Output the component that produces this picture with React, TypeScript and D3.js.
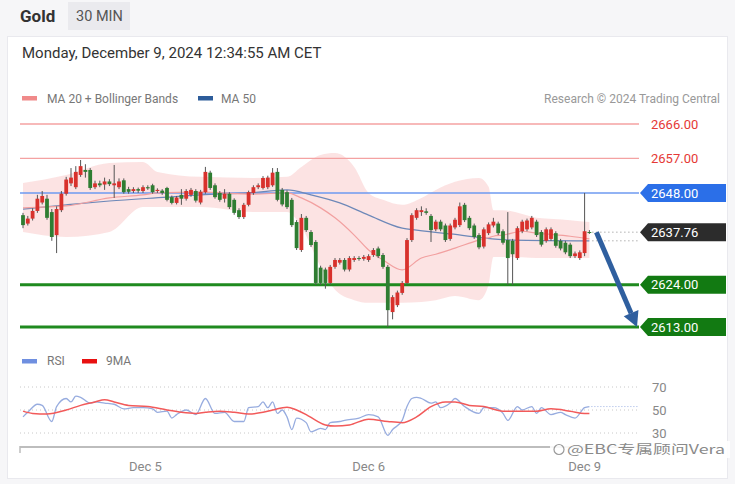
import * as d3 from "d3";

const FONT = "Roboto, 'Noto Sans', 'DejaVu Sans', sans-serif";
const CJK = "'Noto Sans CJK SC', 'Noto Sans', sans-serif";

// 30 min candles: [open, high, low, close]
const candles: [number, number, number, number][] = [
  [2642.2, 2642.8, 2638.8, 2639.6], [2640.0, 2642.0, 2639.5, 2641.3], [2641.3, 2644.0, 2640.8, 2643.3],
  [2643.3, 2647.5, 2642.8, 2646.5], [2645.5, 2648.5, 2645.0, 2647.2], [2646.5, 2647.5, 2641.0, 2641.5],
  [2643.0, 2643.8, 2635.5, 2636.5], [2637.0, 2644.5, 2632.3, 2643.8], [2643.5, 2648.5, 2643.0, 2647.8],
  [2647.8, 2652.2, 2647.3, 2651.5], [2650.5, 2654.5, 2649.8, 2652.0], [2649.5, 2655.0, 2649.0, 2653.5],
  [2652.7, 2656.6, 2652.2, 2655.0], [2654.0, 2655.5, 2652.0, 2653.5], [2654.0, 2654.5, 2648.8, 2649.3],
  [2649.5, 2651.2, 2649.0, 2650.5], [2650.5, 2651.2, 2649.5, 2650.0], [2650.2, 2652.0, 2648.8, 2651.0],
  [2651.0, 2651.6, 2649.8, 2650.3], [2650.0, 2655.3, 2646.7, 2650.5], [2649.5, 2651.8, 2649.0, 2651.0],
  [2651.3, 2651.8, 2647.8, 2648.2], [2649.0, 2649.6, 2647.8, 2648.3], [2648.5, 2649.5, 2648.0, 2649.0],
  [2649.0, 2649.4, 2648.0, 2648.6], [2648.5, 2650.0, 2648.0, 2649.5], [2649.5, 2650.0, 2648.8, 2649.2],
  [2650.0, 2650.4, 2647.8, 2648.2], [2648.5, 2649.2, 2648.0, 2648.8], [2648.6, 2649.0, 2647.5, 2648.0],
  [2649.3, 2649.6, 2645.8, 2646.2], [2646.9, 2647.3, 2645.0, 2645.4], [2645.4, 2647.2, 2645.0, 2646.8],
  [2647.5, 2649.0, 2644.9, 2646.5], [2646.5, 2649.0, 2646.0, 2648.5], [2647.5, 2649.3, 2647.0, 2648.8],
  [2648.5, 2649.0, 2645.5, 2646.0], [2645.5, 2648.8, 2645.0, 2648.3], [2648.2, 2654.8, 2647.8, 2653.5],
  [2653.3, 2653.8, 2648.8, 2649.3], [2650.0, 2650.5, 2646.5, 2646.9], [2648.0, 2648.5, 2645.7, 2646.2],
  [2646.5, 2649.0, 2645.5, 2647.8], [2647.8, 2648.2, 2643.8, 2644.3], [2646.2, 2646.6, 2642.3, 2642.8],
  [2643.5, 2644.0, 2641.2, 2641.7], [2641.7, 2645.4, 2641.2, 2644.9], [2644.9, 2648.6, 2644.5, 2648.2],
  [2648.0, 2650.0, 2647.5, 2649.5], [2649.5, 2650.5, 2649.0, 2650.0], [2649.3, 2652.4, 2648.9, 2651.9],
  [2649.5, 2652.5, 2649.0, 2652.0], [2650.0, 2654.5, 2649.6, 2653.3], [2653.5, 2654.5, 2645.8, 2646.2],
  [2648.8, 2649.3, 2644.5, 2645.0], [2648.2, 2648.7, 2643.8, 2644.3], [2646.2, 2646.7, 2639.1, 2639.6],
  [2640.4, 2640.9, 2633.1, 2633.6], [2633.1, 2642.5, 2632.6, 2641.5], [2641.5, 2642.0, 2637.8, 2638.3],
  [2637.8, 2638.3, 2633.9, 2634.4], [2635.2, 2635.7, 2624.0, 2624.5], [2628.5, 2629.0, 2624.0, 2624.5],
  [2628.0, 2628.5, 2623.0, 2624.5], [2624.5, 2629.2, 2624.0, 2628.7], [2628.7, 2631.0, 2628.2, 2630.5],
  [2629.8, 2631.0, 2629.3, 2630.5], [2630.5, 2631.0, 2627.5, 2628.0], [2628.0, 2631.5, 2627.5, 2631.0],
  [2630.5, 2631.5, 2630.0, 2631.0], [2631.0, 2631.5, 2630.3, 2630.8], [2630.8, 2631.8, 2630.3, 2631.3],
  [2630.5, 2632.0, 2630.0, 2631.5], [2631.8, 2633.6, 2631.3, 2633.1], [2633.5, 2634.0, 2631.0, 2631.5],
  [2631.8, 2632.3, 2628.2, 2628.7], [2628.7, 2629.2, 2613.0, 2617.4], [2616.9, 2621.3, 2615.0, 2620.8],
  [2618.7, 2622.5, 2618.2, 2622.0], [2621.9, 2625.0, 2621.4, 2624.5], [2624.5, 2636.2, 2624.0, 2635.7],
  [2635.7, 2642.7, 2635.2, 2642.2], [2641.5, 2644.0, 2641.0, 2643.5], [2643.0, 2644.5, 2642.0, 2643.5],
  [2643.2, 2644.0, 2642.3, 2642.8], [2642.0, 2642.5, 2635.2, 2638.3], [2638.5, 2641.0, 2638.0, 2640.5],
  [2640.5, 2641.0, 2638.0, 2638.5], [2639.5, 2640.0, 2635.2, 2635.7], [2636.0, 2640.0, 2635.5, 2639.5],
  [2639.0, 2641.5, 2638.5, 2641.0], [2639.6, 2645.5, 2639.1, 2644.5], [2644.9, 2645.4, 2640.4, 2640.9],
  [2641.5, 2642.0, 2638.3, 2638.8], [2639.5, 2640.0, 2636.0, 2636.5], [2637.0, 2637.5, 2633.3, 2633.8],
  [2634.0, 2639.0, 2633.5, 2638.5], [2637.5, 2640.3, 2637.0, 2639.8], [2639.5, 2641.5, 2639.0, 2640.5],
  [2640.0, 2640.5, 2637.0, 2637.5], [2638.0, 2638.5, 2634.5, 2635.0], [2635.7, 2643.0, 2624.0, 2631.0],
  [2635.5, 2636.0, 2624.0, 2632.0], [2631.0, 2639.3, 2630.5, 2638.8], [2638.0, 2641.0, 2637.5, 2640.5],
  [2638.5, 2641.3, 2638.0, 2640.8], [2639.0, 2642.0, 2638.5, 2641.5], [2640.5, 2641.0, 2636.5, 2637.0],
  [2637.8, 2638.3, 2634.0, 2634.5], [2635.5, 2639.0, 2635.0, 2638.5], [2636.0, 2639.0, 2635.5, 2638.5],
  [2637.5, 2638.0, 2633.7, 2634.2], [2635.5, 2636.0, 2633.0, 2633.5], [2635.0, 2635.5, 2632.0, 2632.5],
  [2634.5, 2635.0, 2631.0, 2631.5], [2631.5, 2632.7, 2631.0, 2632.2], [2631.0, 2633.0, 2630.5, 2632.5],
  [2632.3, 2648.0, 2631.5, 2638.0], [2637.8, 2638.3, 2637.3, 2637.76],
];

const dayTicks = ["Dec 5", "Dec 6", "Dec 9"];
const dayTickIdx = [25.5, 72, 117];

// Bollinger bands (MA 20 ± bands), read at these candle indexes
const bbIdx = [0, 9, 18, 25, 28, 37, 48, 55, 58, 62, 65, 69, 72, 75, 79, 83, 86, 90, 95, 97, 98, 100, 104, 107, 114, 118];
const bbUpper = [2650.6, 2652.7, 2655.8, 2656.1, 2653.5, 2652.2, 2651.9, 2652.2, 2654.8, 2657.9, 2658.4, 2654.8, 2648.0, 2646.2, 2644.9, 2646.7, 2648.8, 2650.9, 2651.9, 2649.6, 2643.5, 2643.5, 2642.5, 2641.5, 2640.9, 2640.4];
const bbLower = [2637.8, 2636.5, 2637.8, 2644.3, 2644.3, 2644.3, 2643.0, 2643.0, 2639.1, 2628.7, 2622.7, 2620.0, 2619.3, 2619.3, 2619.3, 2619.5, 2620.0, 2621.1, 2620.0, 2624.0, 2631.3, 2631.3, 2631.2, 2631.0, 2631.0, 2631.0];
const ma20 = [2644.1, 2644.6, 2646.7, 2647.5, 2648.0, 2648.2, 2647.7, 2648.0, 2646.7, 2644.1, 2641.5, 2637.0, 2633.1, 2630.5, 2627.9, 2631.0, 2632.0, 2633.6, 2635.7, 2636.3, 2636.7, 2637.0, 2638.0, 2637.5, 2636.7, 2636.0];

const ma50Idx = [0, 9, 18, 30, 37, 47, 55, 60, 66, 72, 79, 82, 89, 102, 118];
const ma50 = [2643.8, 2644.9, 2645.9, 2646.9, 2647.5, 2648.0, 2648.8, 2647.5, 2645.4, 2642.2, 2638.8, 2638.3, 2637.3, 2635.7, 2635.5];

// RSI and its 9 period MA: [candle index, value]
const rsi: [number, number][] = [
  [0, 44], [1, 48], [3, 55], [4, 54], [6, 40], [7, 53], [9, 60], [10, 57], [11, 62], [12, 61], [14, 56],
  [15, 57], [17, 56], [19, 55], [21, 51], [23, 52], [25, 52], [27, 51], [28, 48], [30, 49], [31, 43],
  [32, 46], [34, 50], [36, 46], [38, 60], [40, 47], [42, 48], [44, 40], [46, 40], [47, 52], [49, 53],
  [50, 57], [51, 52], [52, 57], [53, 47], [54, 50], [55, 44], [56, 33], [57, 43], [59, 39], [60, 31],
  [62, 34], [63, 33], [64, 39], [66, 40], [67, 41], [70, 43], [72, 46], [74, 44], [76, 28], [77, 33],
  [79, 41], [80, 53], [81, 60], [82, 61], [83, 60], [85, 56], [86, 57], [87, 52], [89, 56], [90, 60],
  [92, 53], [95, 47], [96, 52], [98, 52], [100, 47], [101, 41], [103, 53], [104, 50], [106, 53],
  [107, 47], [108, 52], [110, 46], [112, 48], [113, 46], [115, 43], [117, 52], [118, 53],
];
const rsiMa: [number, number][] = [
  [0, 49], [2, 47], [5, 46.5], [9, 50], [12, 54], [15, 57], [17, 59], [19, 57], [22, 54], [26, 53],
  [30, 50], [33, 48], [36, 47], [38, 48], [41, 49], [44, 48], [47, 46.5], [50, 48], [52, 50], [55, 52.5],
  [57, 50], [59, 46], [61, 41], [63, 37], [65, 36], [68, 37], [72, 42], [76, 40], [79, 39], [82, 44],
  [85, 53], [88, 57], [90, 57], [93, 54], [96, 53], [100, 49], [104, 49], [107, 49], [110, 51],
  [114, 49], [117, 47], [118, 47],
];

const resistances = [2666, 2657];
const pivot = 2648;
const supports = [2624, 2613];
const lastPrice = 2637.76;
const rsiTicks = [70, 50, 30];

const RED = "#d8312c";
const GREEN = "#2f7d32";

export default function App() {
  const x = d3.scaleLinear().domain([0, candles.length - 1]).range([23, 589.4]);
  const y = d3.scaleLinear().domain([2613, 2666]).range([327, 124]);
  const ry = d3.scaleLinear().domain([30, 70]).range([433, 387]);

  const lineL = 20;
  const lineR = 639;

  const band = d3
    .area<number>()
    .x((i) => x(bbIdx[i]))
    .y0((i) => y(bbLower[i]))
    .y1((i) => y(bbUpper[i]))
    .curve(d3.curveMonotoneX)(bbIdx.map((_, i) => i));
  const ma20Path = d3
    .line<number>()
    .x((i) => x(bbIdx[i]))
    .y((i) => y(ma20[i]))
    .curve(d3.curveMonotoneX)(bbIdx.map((_, i) => i));
  const ma50Path = d3
    .line<number>()
    .x((i) => x(ma50Idx[i]))
    .y((i) => y(ma50[i]))
    .curve(d3.curveMonotoneX)(ma50Idx.map((_, i) => i));

  const rsiLine = d3
    .line<[number, number]>()
    .x((d) => x(d[0]))
    .y((d) => ry(d[1]))
    .curve(d3.curveMonotoneX);

  const bodyW = 3.8;

  // label box with an arrow point on its left
  const tag = (v: number, fill: string) => {
    const cy = y(v);
    const x0 = 640;
    const x1 = 726;
    const h = 9;
    return (
      <g key={"tag" + v}>
        <path d={`M${x0},${cy} L${x0 + 8},${cy - h} L${x1},${cy - h} L${x1},${cy + h} L${x0 + 8},${cy + h} Z`} fill={fill} />
        <text x={651} y={cy + 4.6} fill="#fff" fontSize={13}>
          {v.toFixed(2)}
        </text>
      </g>
    );
  };

  const lastIdx = candles.length - 1;
  const lastMa50 = ma50[ma50.length - 1];
  const lastRsi = rsi[rsi.length - 1][1];

  // forecast arrow
  const ax0 = x(lastIdx) + 7;
  const ay0 = y(lastPrice);
  const ax1 = 637;
  const ay1 = y(supports[1]);
  const ang = Math.atan2(ay1 - ay0, ax1 - ax0);
  const headL = 15;
  const headW = 8;
  const bx = ax1 - headL * Math.cos(ang);
  const by = ay1 - headL * Math.sin(ang);
  const px = -Math.sin(ang);
  const py = Math.cos(ang);

  return (
    <svg
      width={735}
      height={484}
      style={{ position: "absolute", left: 0, top: 0, fontFamily: FONT }}
    >
      <rect x={0} y={0} width={735} height={484} fill="#f6f6f8" />
      <rect x={7.5} y={36.5} width={720} height={442} fill="#fff" stroke="#e9e9ee" />

      {/* header */}
      <text x={20} y={22} fontSize={17} fontWeight={700} fill="#333">Gold</text>
      <rect x={68} y={2} width={62} height={28} fill="#eaeaee" />
      <text x={76} y={21} fontSize={14.5} fill="#555">30 MIN</text>
      <text x={22} y={58} fontSize={15} fill="#333">Monday, December 9, 2024 12:34:55 AM CET</text>

      {/* legend */}
      <rect x={22} y={96} width={15} height={4.5} fill="#f08a8a" />
      <text x={47} y={103} fontSize={12} fill="#777">MA 20 + Bollinger Bands</text>
      <rect x={198} y={96} width={15} height={4.5} fill="#2d5c9a" />
      <text x={221} y={103} fontSize={12} fill="#777">MA 50</text>
      <text x={720} y={103} fontSize={12} fill="#999" textAnchor="end">Research © 2024 Trading Central</text>

      {/* bollinger band */}
      <path d={band ?? ""} fill="#fbd9d9" opacity={0.75} />

      {/* levels */}
      {resistances.map((v) => (
        <g key={"r" + v}>
          <line x1={lineL} x2={lineR} y1={y(v)} y2={y(v)} stroke="#f4a2a2" strokeWidth={1.3} />
          <text x={651} y={y(v) + 4.6} fontSize={13} fill="#e53935">{v.toFixed(2)}</text>
        </g>
      ))}
      <line x1={lineL} x2={lineR} y1={y(pivot)} y2={y(pivot)} stroke="#6e9af0" strokeWidth={1.6} />
      {supports.map((v) => (
        <line key={"s" + v} x1={lineL} x2={lineR} y1={y(v)} y2={y(v)} stroke="#1f8a1f" strokeWidth={3} />
      ))}

      <path d={ma50Path ?? ""} fill="none" stroke="#6d88b8" strokeWidth={1.2} />
      <path d={ma20Path ?? ""} fill="none" stroke="#f2a0a0" strokeWidth={1.2} />

      {/* candles */}
      {candles.map(([o, h, l, c], i) => {
        const up = c >= o;
        const top = y(Math.max(o, c));
        const bh = Math.max(1, Math.abs(y(o) - y(c)));
        return (
          <g key={i}>
            <line x1={x(i)} x2={x(i)} y1={y(h)} y2={y(l)} stroke="#555" strokeWidth={1} />
            <rect x={x(i) - bodyW / 2} y={top} width={bodyW} height={bh} fill={up ? RED : GREEN} />
          </g>
        );
      })}

      {/* current price / ma50 dotted guides */}
      <line x1={x(lastIdx) + 3} x2={lineR} y1={y(lastPrice)} y2={y(lastPrice)} stroke="#888" strokeDasharray="1 3" />
      <line x1={x(lastIdx) + 3} x2={lineR} y1={y(lastMa50)} y2={y(lastMa50)} stroke="#888" strokeDasharray="1 3" />

      {tag(pivot, "#2b6fe8")}
      {tag(lastPrice, "#2c2c2c")}
      {supports.map((v) => tag(v, "#127a12"))}

      {/* arrow */}
      <line x1={ax0} y1={ay0} x2={bx} y2={by} stroke="#2f5f9f" strokeWidth={5} />
      <path
        d={`M${ax1},${ay1} L${bx + px * headW},${by + py * headW} L${bx - px * headW},${by - py * headW} Z`}
        fill="#2f5f9f"
      />

      {/* RSI panel */}
      <rect x={22} y={359} width={15} height={4.5} fill="#6f8fe0" />
      <text x={47} y={365} fontSize={12} fill="#777">RSI</text>
      <rect x={82} y={359} width={15} height={4.5} fill="#e81010" />
      <text x={106} y={365} fontSize={12} fill="#777">9MA</text>

      {rsiTicks.map((t) => (
        <g key={"rt" + t}>
          <line x1={lineL} x2={lineR} y1={ry(t)} y2={ry(t)} stroke="#c8c8c8" strokeDasharray="1 3" />
          <text x={652} y={ry(t) + 4.5} fontSize={13} fill="#888">{t}</text>
        </g>
      ))}
      <line x1={x(lastIdx) + 2} x2={lineR} y1={ry(lastRsi)} y2={ry(lastRsi)} stroke="#9db2e4" strokeDasharray="1 2" />
      <path d={rsiLine(rsi) ?? ""} fill="none" stroke="#97acdf" strokeWidth={1.3} />
      <path d={rsiLine(rsiMa) ?? ""} fill="none" stroke="#f25a5a" strokeWidth={1.5} />

      {/* time axis */}
      <line x1={20} x2={640} y1={447} y2={447} stroke="#bdbdbd" strokeWidth={2} />
      <line x1={20} x2={20} y1={446} y2={453} stroke="#bdbdbd" strokeWidth={1.5} />
      {dayTicks.map((d, i) => (
        <text key={d} x={x(dayTickIdx[i])} y={470.5} fontSize={13} fill="#888" textAnchor="middle">{d}</text>
      ))}

      {/* watermark */}
      <rect x={550} y={441} width={180} height={17} fill="#fff" opacity={0.88} />
      <circle cx={559} cy={449.5} r={5} fill="none" stroke="#999" strokeWidth={1.2} />
      <text x={567} y={454} fontSize={12.5} fill="#8a8a8a" fontFamily={CJK} textLength={158} lengthAdjust="spacingAndGlyphs">
        @EBC专属顾问Vera
      </text>
    </svg>
  );
}
